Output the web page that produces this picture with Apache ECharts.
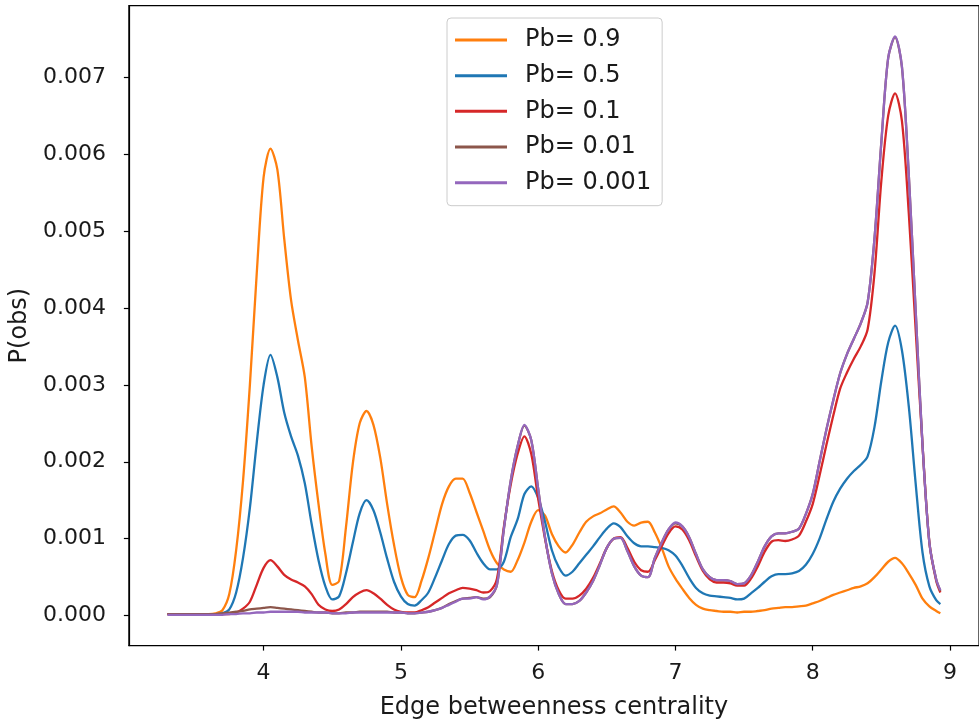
<!DOCTYPE html>
<html>
<head>
<meta charset="utf-8">
<script src="https://cdn.jsdelivr.net/npm/echarts@6/dist/echarts.min.js"></script>
<style>
html,body{margin:0;padding:0;background:#fff;}
#chart{width:979px;height:728px;}
</style>
</head>
<body>
<div id="chart"></div>
<script>
// Edge betweenness centrality (x) sampled positions
const X = [
  3.3,3.4,3.5,3.6,3.65,3.7,3.75,3.8,3.85,3.9,
  3.95,4.0,4.05,4.1,4.15,4.2,4.25,4.3,4.35,4.4,
  4.45,4.5,4.55,4.6,4.65,4.7,4.75,4.8,4.85,4.9,
  4.95,5.0,5.05,5.1,5.15,5.2,5.25,5.3,5.35,5.4,
  5.45,5.5,5.55,5.6,5.65,5.7,5.75,5.8,5.85,5.9,
  5.95,6.0,6.05,6.1,6.15,6.2,6.25,6.3,6.35,6.4,
  6.45,6.5,6.55,6.6,6.65,6.7,6.75,6.8,6.85,6.9,
  6.95,7.0,7.05,7.1,7.15,7.2,7.25,7.3,7.35,7.4,
  7.45,7.5,7.55,7.6,7.65,7.7,7.75,7.8,7.85,7.9,
  7.95,8.0,8.05,8.1,8.15,8.2,8.25,8.3,8.35,8.4,
  8.45,8.5,8.55,8.6,8.65,8.7,8.75,8.8,8.85,8.9,
  8.93
];

const pb09 = [
  0.00002,0.00002,0.00002,0.00002,0.00003,0.00007,0.00028,0.00085,0.00175,0.003,
  0.00445,0.0057,0.00607,0.0058,0.0049,0.0041,0.00358,0.0031,0.0022,0.00145,
  0.0008,0.0004,0.00045,0.00115,0.00198,0.0025,0.00266,0.00248,0.00205,0.00145,
  0.00092,0.0005,0.00027,0.00024,0.00045,0.00075,0.0011,0.00145,0.00168,0.00178,
  0.00178,0.0016,0.00135,0.0011,0.00085,0.00068,0.0006,0.00057,0.00072,0.00095,
  0.00122,0.00137,0.0013,0.00106,0.0009,0.00082,0.00092,0.00108,0.00122,0.00129,
  0.00133,0.00138,0.00142,0.00134,0.00122,0.00117,0.00121,0.00122,0.00108,0.00088,
  0.00064,0.00048,0.00035,0.00023,0.00014,0.00009,0.00007,0.00006,0.00005,0.00005,
  0.00004,0.00005,0.00005,0.00006,0.00007,0.00009,0.0001,0.00011,0.00011,0.00012,
  0.00013,0.00016,0.00019,0.00023,0.00027,0.0003,0.00033,0.00036,0.00038,0.00042,
  0.0005,0.0006,0.0007,0.00075,0.00068,0.00055,0.0004,0.00022,0.00012,0.00006,
  0.00003
];

const pb05 = [
  0.00002,0.00002,0.00002,0.00002,0.00002,0.00003,0.00008,0.0003,0.00075,0.0014,
  0.00225,0.003,0.00339,0.0031,0.00264,0.00233,0.00208,0.00172,0.00119,0.00072,
  0.00038,0.00021,0.00025,0.00055,0.00095,0.00133,0.0015,0.00137,0.00108,0.00074,
  0.00044,0.00025,0.00015,0.00013,0.0002,0.0003,0.0005,0.00072,0.00093,0.00104,
  0.00105,0.00098,0.00082,0.00068,0.0006,0.0006,0.0007,0.00102,0.00125,0.00158,
  0.00168,0.00153,0.00122,0.00085,0.00063,0.00052,0.00057,0.00068,0.00079,0.0009,
  0.00102,0.00113,0.0012,0.00115,0.00103,0.00094,0.0009,0.0009,0.00089,0.00088,
  0.00085,0.00078,0.00065,0.00049,0.00036,0.00029,0.00026,0.00025,0.00024,0.00023,
  0.00021,0.00022,0.00029,0.00036,0.00044,0.00051,0.00054,0.00054,0.00055,0.00058,
  0.00066,0.0008,0.001,0.00125,0.00148,0.00165,0.00178,0.00188,0.00196,0.00207,
  0.00245,0.00305,0.00355,0.00377,0.00345,0.00272,0.00172,0.00082,0.00038,0.0002,
  0.00015
];

const pb01 = [
  0.00002,0.00002,0.00002,0.00002,0.00002,0.00002,0.00002,0.00004,0.00009,0.00018,
  0.0004,0.00062,0.00072,0.00064,0.00053,0.00047,0.00043,0.00038,0.00028,0.00014,
  0.00008,0.00006,0.00008,0.00015,0.00024,0.0003,0.00033,0.00029,0.00022,0.00014,
  0.00008,0.00005,0.00004,0.00004,0.00007,0.00011,0.00017,0.00023,0.00029,0.00033,
  0.00036,0.00035,0.00033,0.0003,0.00032,0.00048,0.00115,0.0017,0.0021,0.00233,
  0.0021,0.00152,0.001,0.00058,0.00033,0.00022,0.00022,0.00026,0.00035,0.00049,
  0.00068,0.00088,0.001,0.00102,0.00088,0.0007,0.00059,0.00057,0.00072,0.0009,
  0.00107,0.00116,0.00112,0.00098,0.00077,0.00058,0.00047,0.00043,0.00043,0.00042,
  0.00039,0.00039,0.00048,0.00064,0.00083,0.00096,0.00098,0.00097,0.00099,0.00104,
  0.00122,0.00145,0.00182,0.00222,0.0026,0.00295,0.00316,0.00334,0.0035,0.00372,
  0.00445,0.00565,0.0065,0.00679,0.00643,0.00523,0.00372,0.00222,0.00095,0.00045,
  0.0003
];

const pb001 = [
  0.00002,0.00002,0.00002,0.00002,0.00002,0.00003,0.00004,0.00005,0.00006,0.00008,
  0.00009,0.0001,0.00011,0.0001,0.00009,0.00008,0.00007,0.00006,0.00005,0.00004,
  0.00004,0.00003,0.00003,0.00004,0.00004,0.00005,0.00005,0.00005,0.00005,0.00005,
  0.00004,0.00004,0.00003,0.00003,0.00004,0.00005,0.00007,0.0001,0.00015,0.00019,
  0.00022,0.00023,0.00024,0.00022,0.00024,0.0004,0.00112,0.00175,0.0022,0.00247,
  0.00228,0.00165,0.00102,0.00055,0.00028,0.00015,0.00015,0.00019,0.0003,0.00045,
  0.00066,0.00088,0.001,0.00101,0.00084,0.00064,0.00052,0.0005,0.00075,0.00095,
  0.00112,0.0012,0.00116,0.00102,0.0008,0.0006,0.0005,0.00046,0.00046,0.00045,
  0.00041,0.00042,0.00052,0.0007,0.0009,0.00103,0.00107,0.00107,0.00109,0.00113,
  0.00132,0.00158,0.002,0.00242,0.0028,0.00315,0.0034,0.0036,0.0038,0.00407,
  0.0049,0.00615,0.00725,0.00752,0.00713,0.00573,0.00397,0.00222,0.00095,0.00047,
  0.00032
];

const pb0001 = [
  0.00001,0.00001,0.00001,0.00001,0.00001,0.00001,0.00002,0.00002,0.00003,0.00003,
  0.00004,0.00004,0.00005,0.00005,0.00005,0.00005,0.00005,0.00004,0.00004,0.00004,
  0.00004,0.00003,0.00003,0.00003,0.00004,0.00004,0.00004,0.00004,0.00004,0.00004,
  0.00004,0.00004,0.00003,0.00003,0.00004,0.00005,0.00007,0.0001,0.00014,0.00018,
  0.00022,0.00022,0.00024,0.00021,0.00025,0.0004,0.00112,0.00175,0.0022,0.00248,
  0.00228,0.00165,0.00102,0.00055,0.00028,0.00015,0.00015,0.00019,0.0003,0.00045,
  0.00066,0.00088,0.001,0.00101,0.00084,0.00064,0.00052,0.0005,0.00075,0.00095,
  0.00112,0.00121,0.00116,0.00102,0.0008,0.0006,0.0005,0.00046,0.00046,0.00045,
  0.00041,0.00042,0.00052,0.0007,0.0009,0.00103,0.00107,0.00107,0.00109,0.00113,
  0.00132,0.00158,0.002,0.00242,0.0028,0.00315,0.0034,0.0036,0.0038,0.00407,
  0.0049,0.00615,0.00725,0.00753,0.00714,0.00573,0.00397,0.00222,0.00095,0.00047,
  0.00033
];

const seriesNames = ['Pb= 0.9','Pb= 0.5','Pb= 0.1','Pb= 0.01','Pb= 0.001'];
const seriesValues = [pb09, pb05, pb01, pb001, pb0001];
const seriesColors = ['#ff7f0e','#1f77b4','#d62728','#8c564b','#9467bd'];

const xTicks = [4,5,6,7,8,9];
const yTicks = [0,0.001,0.002,0.003,0.004,0.005,0.006,0.007];

const FONT = 'DejaVu Sans';
const TXT = '#1a1a1a';

const chart = echarts.init(document.getElementById('chart'), null, {renderer:'canvas'});
chart.setOption({
  animation: false,
  backgroundColor: '#fff',
  grid: {left:125, top:5.6, width:859, height:640, show:true, borderColor:'#000', borderWidth:1.2, backgroundColor:'transparent'},
  legend: {
    orient:'vertical', left:447, top:18,
    itemWidth:52, itemHeight:3, itemGap:11.67, icon:'rect',
    padding:[10,11,11,8],
    borderColor:'#cccccc', borderWidth:1, borderRadius:4,
    backgroundColor:'rgba(255,255,255,0.8)',
    textStyle:{fontFamily:FONT, fontSize:24, color:TXT, lineHeight:24, padding:[0,0,0,13]},
    data: seriesNames
  },
  xAxis: {
    type:'value', min:3.0185, max:9.2115,
    name:'Edge betweenness centrality', nameLocation:'middle', nameGap:50,
    nameTextStyle:{fontFamily:FONT, fontSize:24, color:TXT},
    axisLine:{show:true, onZero:false, lineStyle:{color:'#000', width:1.2}},
    axisTick:{show:true, length:5, customValues:xTicks, lineStyle:{color:'#000', width:1.2}},
    axisLabel:{customValues:xTicks, margin:17, fontFamily:FONT, fontSize:22, color:TXT},
    splitLine:{show:false}
  },
  yAxis: {
    type:'value', min:-0.00039, max:0.00793,
    name:'P(obs)', nameLocation:'middle', nameGap:94,
    nameTextStyle:{fontFamily:FONT, fontSize:24, color:TXT},
    axisLine:{show:true, onZero:false, lineStyle:{color:'#000', width:1.2}},
    axisTick:{show:true, length:5, customValues:yTicks, lineStyle:{color:'#000', width:1.2}},
    axisLabel:{customValues:yTicks, margin:23, fontFamily:FONT, fontSize:22, color:TXT,
      formatter:function(v){return v.toFixed(3);}},
    splitLine:{show:false}
  },
  series: seriesNames.map(function(name, i){
    return {
      name:name, type:'line', symbol:'none', showSymbol:false, smooth:0.3,
      lineStyle:{color:seriesColors[i], width:2.3},
      itemStyle:{color:seriesColors[i]},
      data: X.map(function(x, j){ return [x, seriesValues[i][j]]; })
    };
  })
});
</script>
</body>
</html>
